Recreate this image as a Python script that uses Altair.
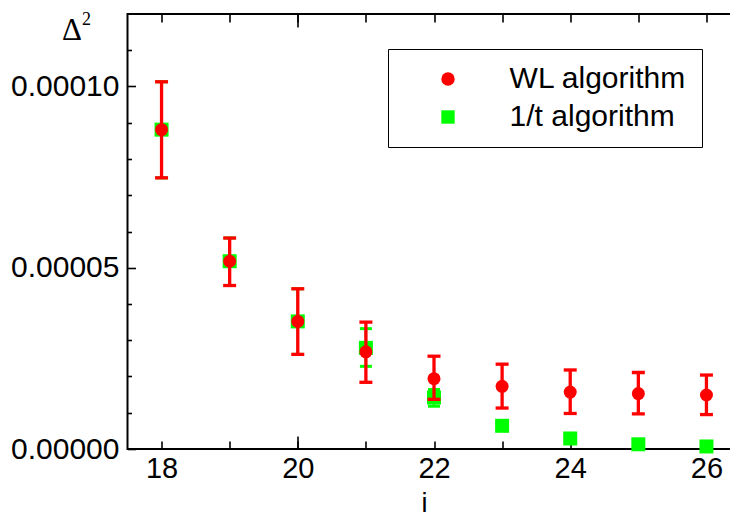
import altair as alt
import pandas as pd

# ---- data ----
steps = [18, 19, 20, 21, 22, 23, 24, 25, 26]
wl_value = [8.81e-5, 5.18e-5, 3.52e-5, 2.68e-5, 1.94e-5, 1.73e-5, 1.57e-5, 1.53e-5, 1.49e-5]
wl_high = [10.13e-5, 5.82e-5, 4.42e-5, 3.50e-5, 2.56e-5, 2.34e-5, 2.18e-5, 2.11e-5, 2.04e-5]
wl_low = [7.48e-5, 4.51e-5, 2.61e-5, 1.84e-5, 1.37e-5, 1.13e-5, 0.98e-5, 0.97e-5, 0.95e-5]
t_value = [8.81e-5, 5.18e-5, 3.52e-5, 2.79e-5, 1.42e-5, 0.64e-5, 0.29e-5, 0.13e-5, 0.07e-5]
t_high = [10.13e-5, 5.82e-5, 4.42e-5, 3.32e-5, 1.64e-5, None, None, None, None]
t_low = [7.48e-5, 4.51e-5, 2.61e-5, 2.28e-5, 1.18e-5, None, None, None, None]
series_names = ["WL algorithm", "1/t algorithm"]
series_colors = ["#ff0000", "#00ff00"]
series_shapes = ["circle", "square"]

x_ticks = [18, 19, 20, 21, 22, 23, 24, 25, 26]
x_long_ticks = [20]
y_major = [0.0, 0.00005, 0.0001]
y_minor = [0.00001, 0.00002, 0.00003, 0.00004, 0.00006, 0.00007, 0.00008, 0.00009, 0.00011]

rows = []
for i, v, lo, hi in zip(steps, wl_value, wl_low, wl_high):
    rows.append({"i": i, "series": series_names[0], "v": v, "lo": lo, "hi": hi})
for i, v, lo, hi in zip(steps, t_value, t_low, t_high):
    rows.append({"i": i, "series": series_names[1], "v": v, "lo": lo, "hi": hi})
df = pd.DataFrame(rows)

W, H = 613, 435
FONT = "Liberation Sans"
SERIF = "Liberation Serif"

xs = alt.Scale(domain=[17.5, 26.5], nice=False, zero=False)
ys = alt.Scale(domain=[0, 0.00012], nice=False, zero=False)

tick_common = dict(domain=False, grid=False, tickColor="black", tickWidth=1.6)

ax_bottom = alt.Axis(orient="bottom", values=x_ticks, tickSize=8, offset=-8, format="d",
                     labelExpr="datum.value % 2 == 0 ? datum.label : ''",
                     labelFont=FONT, labelFontSize=29, labelColor="black", labelPadding=5,
                     labelFlush=False, labelOverlap=False,
                     title="i", titleFont=FONT, titleFontSize=27, titleFontWeight="normal",
                     titleColor="black", titleX=296.5, titleY=70, titleAlign="center",
                     titleBaseline="alphabetic", **tick_common)
ax_bottom_long = alt.Axis(orient="bottom", values=x_long_ticks, tickSize=13, offset=-13,
                          labels=False, title=None, **tick_common)
ax_top = alt.Axis(orient="top", values=x_ticks, tickSize=8, offset=-8,
                  labels=False, title=None, **tick_common)
ax_top_long = alt.Axis(orient="top", values=x_long_ticks, tickSize=13, offset=-13,
                       labels=False, title=None, **tick_common)

ax_left = alt.Axis(orient="left", values=y_major, tickSize=8, offset=-8, format=".5f",
                   labelFont=FONT, labelFontSize=30, labelColor="black", labelPadding=8.5,
                   labelFlush=False, labelOverlap=False, labelBaseline="middle",
                   title="Δ", titleFont=SERIF, titleFontSize=31,
                   titleFontWeight="normal", titleColor="black", titleAngle=0,
                   titleX=-74, titleY=25.5, titleAlign="left", titleBaseline="alphabetic",
                   **tick_common)
ax_left_minor = alt.Axis(orient="left", values=y_minor, tickSize=4, offset=-4,
                         labels=False,
                         title="2", titleFont=SERIF, titleFontSize=18,
                         titleFontWeight="normal", titleColor="black", titleAngle=0,
                         titleX=-50, titleY=10, titleAlign="left", titleBaseline="alphabetic",
                         **tick_common)
ax_right = alt.Axis(orient="right", values=y_major, tickSize=8, offset=-8,
                    labels=False, title=None, **tick_common)
ax_right_minor = alt.Axis(orient="right", values=y_minor, tickSize=4, offset=-4,
                          labels=False, title=None, **tick_common)

legend = alt.Legend(orient="none", legendX=260.5, legendY=35, title=None,
                    labelFont=FONT, labelFontSize=30, labelColor="black", labelLimit=0,
                    labelExpr="datum.label + '  '",
                    symbolSize=180, symbolOpacity=1, symbolStrokeWidth=0,
                    padding=15, symbolOffset=30, labelOffset=46.6, rowPadding=8,
                    strokeColor="black", fillColor="white", cornerRadius=0)

color = alt.Color("series:N", scale=alt.Scale(domain=series_names, range=series_colors), legend=legend)
shape = alt.Shape("series:N", scale=alt.Scale(domain=series_names, range=series_shapes), legend=legend)

base = alt.Chart(df)
green = base.transform_filter(alt.datum.series == series_names[1])
red = base.transform_filter(alt.datum.series == series_names[0])

green_pts = green.mark_point(filled=True, opacity=1, size=196, strokeWidth=0).encode(
    x=alt.X("i:Q", scale=xs, axis=ax_bottom),
    y=alt.Y("v:Q", scale=ys, axis=ax_left),
    color=color, shape=shape,
)
green_rule = green.mark_rule(color="#00ff00", strokeWidth=2.5).encode(
    x=alt.X("i:Q", scale=xs, axis=ax_bottom_long),
    y=alt.Y("lo:Q", scale=ys, axis=ax_left_minor),
    y2="hi:Q",
)
green_caps = green.transform_fold(["lo", "hi"], as_=["kind", "yv"]).mark_tick(
    color="#00ff00", orient="horizontal", size=12, thickness=3, opacity=1
).encode(
    x=alt.X("i:Q", scale=xs, axis=ax_top),
    y=alt.Y("yv:Q", scale=ys, axis=ax_right),
)
red_rule = red.mark_rule(color="#ff0000", strokeWidth=3.3).encode(
    x=alt.X("i:Q", scale=xs, axis=ax_top_long),
    y=alt.Y("lo:Q", scale=ys, axis=ax_right_minor),
    y2="hi:Q",
)
red_caps = red.transform_fold(["lo", "hi"], as_=["kind", "yv"]).mark_tick(
    color="#ff0000", orient="horizontal", size=13, thickness=3.3, opacity=1
).encode(
    x=alt.X("i:Q", scale=xs, axis=None),
    y=alt.Y("yv:Q", scale=ys, axis=None),
)
red_pts = red.mark_point(filled=True, opacity=1, size=169, strokeWidth=0).encode(
    x=alt.X("i:Q", scale=xs, axis=None),
    y=alt.Y("v:Q", scale=ys, axis=None),
    color=color, shape=shape,
)

chart = alt.layer(
    green_pts, green_rule, green_caps, red_rule, red_caps, red_pts
).resolve_axis(x="independent", y="independent").properties(
    width=W, height=H,
    autosize=alt.AutoSizeParams(type="none"),
    padding={"left": 119.5, "top": 6, "right": -10.5, "bottom": 68},
).configure_view(stroke="black", strokeWidth=2)

chart.save("out.html", embed_options={"renderer": "svg", "actions": False})
